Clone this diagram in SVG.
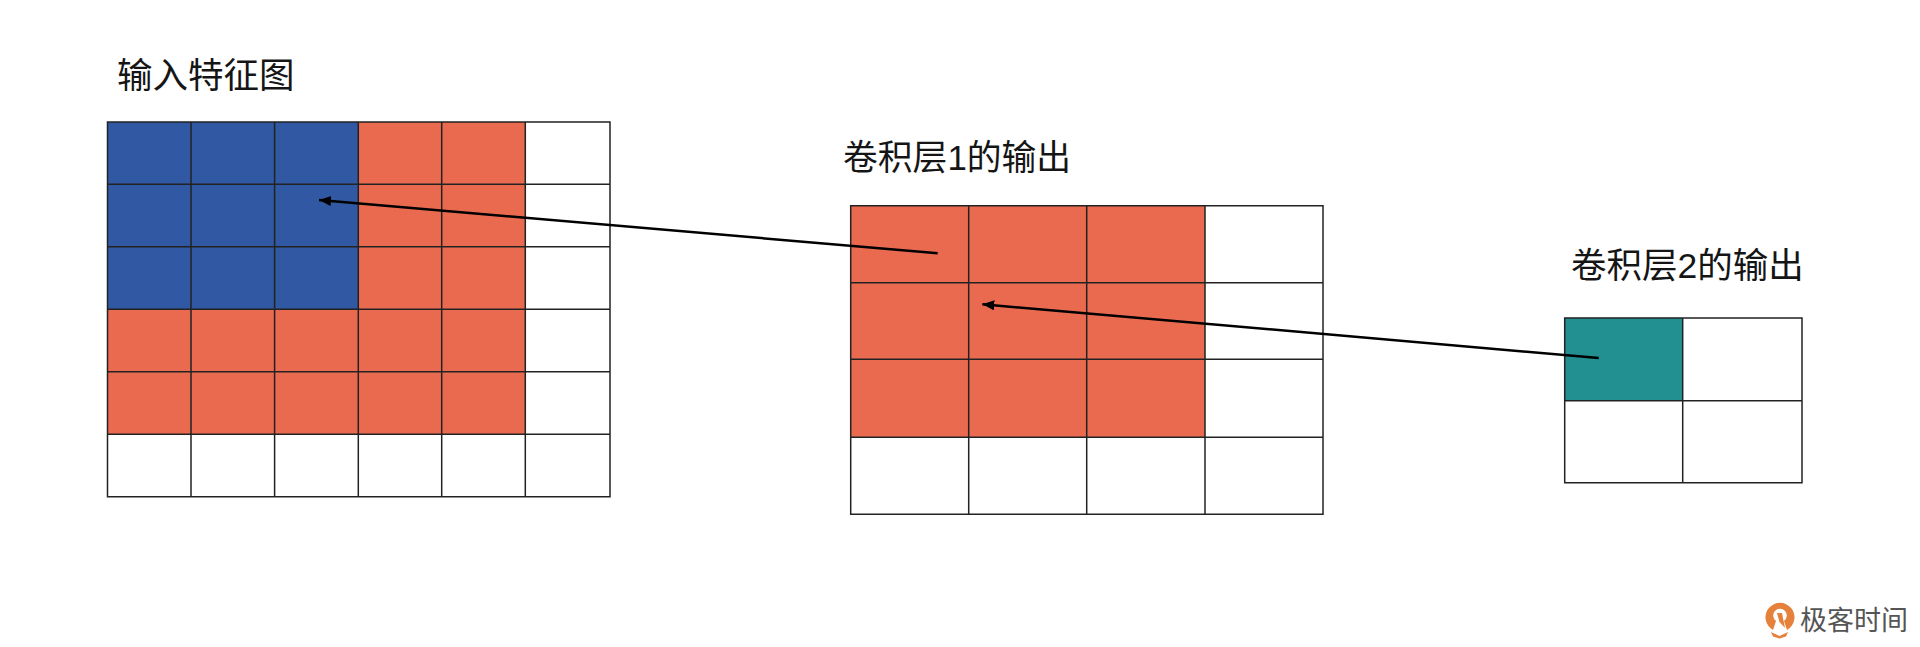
<svg xmlns="http://www.w3.org/2000/svg" width="1920" height="647" viewBox="0 0 1920 647">
<style>
.t{font-family:"Liberation Sans","Noto Sans CJK SC",sans-serif;font-size:35.500px;fill:#151515}
.g{fill:none;stroke:#222;stroke-width:1.500}
.b{fill:#3158a2}.r{fill:#ea6a50}.k{fill:#228f91}
.c{fill:none;stroke:#000;stroke-width:2.500}
.l{font-family:"Noto Sans CJK SC",sans-serif;font-size:27px;fill:#555}
</style>
<defs>
<marker id="a" markerUnits="userSpaceOnUse" markerWidth="14" markerHeight="12" refX="12" refY="5" orient="auto"><path d="M0 5L12 0V10Z" transform="rotate(180 6 5)" fill="#000"/></marker>
</defs>
<rect width="1920" height="647" fill="#fff"/>
<g id="input-feature-map">
<text class="t" x="117" y="88">输入特征图</text>
<rect class="b" x="107.500" y="122" width="251" height="187.500"/>
<rect class="r" x="358.500" y="122" width="167" height="187.500"/>
<rect class="r" x="107.500" y="309.500" width="418" height="125"/>
<path class="g" d="M107.500 122H610V496.700H107.500ZM107.500 184.300H610M107.500 246.700H610M107.500 309.300H610M107.500 371.700H610M107.500 434.300H610M191 122V496.700M274.600 122V496.700M358.300 122V496.700M441.700 122V496.700M525.300 122V496.700"/>
</g>
<g id="conv-layer-1-output">
<text class="t" x="843" y="169.500" style="font-size:34.800px">卷积层1的输出</text>
<rect class="r" x="850.700" y="205.700" width="354.300" height="231.600"/>
<path class="g" d="M850.700 205.700H1323V514.300H850.700ZM850.700 282.700H1323M850.700 359.300H1323M850.700 437.300H1323M968.700 205.700V514.300M1086.700 205.700V514.300M1205 205.700V514.300"/>
</g>
<g id="conv-layer-2-output">
<text class="t" x="1571" y="277.500">卷积层2的输出</text>
<rect class="k" x="1564.700" y="318" width="118" height="82.700"/>
<path class="g" d="M1564.700 318H1802V482.700H1564.700ZM1564.700 400.700H1802M1682.700 318V482.700"/>
</g>
<g id="connectors">
<line class="c" x1="937.700" y1="253.300" x2="319" y2="200" marker-end="url(#a)"/>
<line class="c" x1="1598.700" y1="358" x2="982.300" y2="304.300" marker-end="url(#a)"/>
</g>
<g id="logo">
<path d="M1773 630A14.500 14.500 0 1 1 1787 630L1784 621A6.800 6.800 0 1 0 1776 621Z" fill="#e5813a"/>
<path d="M1777 613L1782 613L1785 628L1779.500 622Z" fill="#e5813a"/>
<path d="M1771 632L1779.500 636L1788 632L1786 636.500L1779.500 638.500L1773 636.500Z" fill="#e5813a"/>
<text class="l" x="1800" y="630">极客时间</text>
</g>
</svg>
